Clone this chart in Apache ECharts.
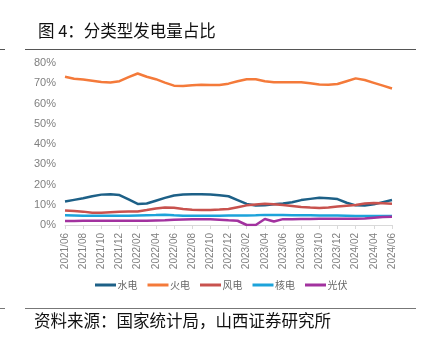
<!DOCTYPE html>
<html>
<head>
<meta charset="utf-8">
<script src="https://cdn.jsdelivr.net/npm/echarts@6/dist/echarts.min.js"></script>
<style>
  html, body { margin: 0; padding: 0; background: #fff; }
  #chart { width: 426px; height: 350px; }
</style>
</head>
<body>
<div id="chart"></div>
<script>
// 月份：2021/06 - 2024/06
const months = [
  '2021/06', '2021/07', '2021/08', '2021/09', '2021/10', '2021/11', '2021/12',
  '2022/01', '2022/02', '2022/03', '2022/04', '2022/05', '2022/06', '2022/07',
  '2022/08', '2022/09', '2022/10', '2022/11', '2022/12',
  '2023/01', '2023/02', '2023/03', '2023/04', '2023/05', '2023/06', '2023/07',
  '2023/08', '2023/09', '2023/10', '2023/11', '2023/12',
  '2024/01', '2024/02', '2024/03', '2024/04', '2024/05', '2024/06'
]

// 各类型发电量占比 (%)
const hydro = [11.6, 12.4, 13.2, 14.2, 15.0, 15.2, 14.8, 12.6, 10.4, 10.6, 12.0, 13.4, 14.6, 15.1,
  15.2, 15.2, 15.1, 14.7, 14.2, 12.3, 10.4, 9.6, 9.7, 10.2, 10.6, 11.2, 12.3, 12.9, 13.4, 13.2,
  12.8, 11.0, 9.7, 9.6, 10.2, 11.3, 12.3]
const thermal = [73.2, 72.2, 71.8, 71.2, 70.6, 70.4, 71.0, 73.0, 74.8, 73.2, 72.0, 70.3, 68.8, 68.6,
  69.0, 69.3, 69.1, 69.1, 69.8, 71.0, 72.0, 72.0, 71.0, 70.5, 70.5, 70.5, 70.5, 70.0, 69.4, 69.2,
  69.6, 71.0, 72.4, 71.6, 70.2, 68.8, 67.4]
const wind = [7.2, 6.9, 6.6, 6.0, 6.1, 6.3, 6.5, 6.7, 6.7, 7.4, 8.2, 8.6, 8.5, 7.9,
  7.5, 7.4, 7.4, 7.6, 7.9, 8.8, 9.7, 10.1, 10.5, 10.3, 9.9, 9.4, 8.9, 8.6, 8.4, 8.7,
  9.1, 9.5, 9.9, 10.6, 10.9, 10.8, 10.5]
const nuclear = [4.8, 4.7, 4.6, 4.6, 4.6, 4.6, 4.6, 4.6, 4.7, 4.8, 4.9, 5.1, 4.8, 4.6,
  4.6, 4.6, 4.6, 4.6, 4.7, 4.7, 4.7, 4.8, 5.0, 5.0, 4.9, 4.8, 4.8, 4.8, 4.7, 4.7,
  4.7, 4.6, 4.5, 4.5, 4.4, 4.4, 4.5]
const solar = [2.0, 2.0, 2.1, 2.1, 2.1, 2.1, 2.1, 2.1, 2.1, 2.1, 2.2, 2.3, 2.6, 2.7,
  2.8, 2.8, 2.8, 2.6, 2.3, 2.1, 0.0, 0.0, 3.0, 1.7, 2.9, 2.9, 3.0, 3.0, 3.1, 3.1,
  3.1, 3.1, 3.1, 3.2, 3.6, 3.9, 4.1]

const names = ['水电', '火电', '风电', '核电', '光伏']
const colors = ['#1d6087', '#f47a3a', '#c8524e', '#1ca3da', '#a2329f']
const values = [hydro, thermal, wind, nuclear, solar]

const cnFont = '"Noto Sans CJK SC", sans-serif'
const gray = '#7f7f7f'

let myChart = echarts.init(document.getElementById('chart'))

myChart.setOption({
  animation: false,
  color: colors,
  title: {
    text: '图 4：分类型发电量占比',
    left: 33,
    top: 17,
    textStyle: { fontFamily: cnFont, fontSize: 16.5, fontWeight: 'normal', color: '#111' }
  },
  legend: {
    data: names,
    top: 275,
    left: 90,
    itemWidth: 21,
    itemHeight: 3,
    itemGap: 10,
    icon: 'rect',
    textStyle: { fontFamily: cnFont, fontSize: 10, color: '#666', padding: [0, 0, 0, -3.5] }
  },
  grid: { left: 65, right: 34, top: 63, bottom: 125 },
  xAxis: {
    type: 'category',
    data: months,
    boundaryGap: false,
    axisLine: { lineStyle: { color: '#d9d9d9' } },
    axisTick: { interval: 1, length: 4, lineStyle: { color: '#d9d9d9' } },
    axisLabel: { interval: 1, rotate: 90, fontSize: 10, color: gray, fontFamily: 'Liberation Sans', margin: 8 }
  },
  yAxis: {
    type: 'value',
    min: 0,
    max: 80,
    interval: 10,
    splitLine: { show: false },
    axisLine: { show: false },
    axisTick: { show: false },
    axisLabel: { formatter: '{value}%', fontSize: 11, color: gray, fontFamily: 'Liberation Sans', margin: 9 }
  },
  series: names.map((n, i) => ({
    name: n,
    type: 'line',
    data: values[i],
    symbol: 'none',
    lineStyle: { width: 2.5 }
  })),
  graphic: [
    { type: 'line', shape: { x1: 25, y1: 49.5, x2: 416, y2: 49.5 }, style: { stroke: '#555', lineWidth: 1 } },
    { type: 'line', shape: { x1: 0, y1: 49.5, x2: 5, y2: 49.5 }, style: { stroke: '#555', lineWidth: 1 } },
    { type: 'line', shape: { x1: 25, y1: 308.5, x2: 416, y2: 308.5 }, style: { stroke: '#777', lineWidth: 1 } },
    { type: 'line', shape: { x1: 0, y1: 308.5, x2: 5, y2: 308.5 }, style: { stroke: '#777', lineWidth: 1 } },
    {
      type: 'text', left: 34, top: 312,
      style: { text: '资料来源：国家统计局，山西证券研究所', font: '16.5px ' + cnFont, fill: '#111' }
    }
  ]
})
</script>
</body>
</html>
